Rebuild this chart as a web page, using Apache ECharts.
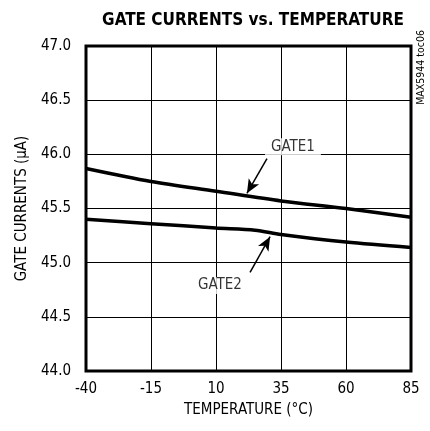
<!DOCTYPE html>
<html><head><meta charset="utf-8">
<script src="https://cdn.jsdelivr.net/npm/echarts@6/dist/echarts.min.js"></script>
<style>html,body{margin:0;padding:0;background:#fff}#c{width:430px;height:431px}</style>
</head><body><div id="c"></div>
<script>
const FONT = '"Liberation Sans Narrow","DejaVu Sans Condensed","Roboto Condensed",sans-serif';
const xTicks = [-40, -15, 10, 35, 60, 85];
const yTicks = ['44.0','44.5','45.0','45.5','46.0','46.5','47.0'];
const gate1X = [-40, -15, 10, 35, 60, 85];
const gate1Y = [45.87, 45.75, 45.66, 45.57, 45.50, 45.42];
const gate2X = [-40, -15, 10, 25, 35, 60, 85];
const gate2Y = [45.40, 45.36, 45.32, 45.30, 45.26, 45.19, 45.14];
const labels = [
  {text: 'GATE1', at: [39.6, 46.07], arrowFrom: [29.6, 45.96], arrowTo: [21.9, 45.64]},
  {text: 'GATE2', at: [11.5, 44.79], arrowFrom: [23.1, 44.91], arrowTo: [30.8, 45.24]}
];
const chart = echarts.init(document.getElementById('c'));
const lineStyle = {color: '#000', width: 3.5};
chart.setOption({
  animation: false,
  textStyle: {fontFamily: FONT},
  title: {text: 'GATE CURRENTS vs. TEMPERATURE', left: 248, top: 7, textAlign: 'center',
    textStyle: {fontFamily: FONT, fontWeight: 'bold', fontSize: 17, color: '#000'}},
  graphic: [{type: 'text', left: 416, top: 30, rotation: Math.PI/2,
    style: {text: 'MAX5944 toc06', font: '10.5px ' + FONT, fill: '#000'}}],
  grid: {left: 86, right: 19, top: 46, bottom: 60, show: true, borderColor: '#000', borderWidth: 3},
  xAxis: {type: 'value', min: -40, max: 85, interval: 25,
    name: 'TEMPERATURE (°C)', nameLocation: 'middle', nameGap: 32,
    nameTextStyle: {fontFamily: FONT, fontSize: 15, color: '#000'},
    axisLine: {show: false}, axisTick: {show: false},
    axisLabel: {fontFamily: FONT, fontSize: 15, color: '#000', margin: 11,
      formatter: v => xTicks.includes(v) ? String(v) : ''},
    splitLine: {show: true, lineStyle: {color: '#000', width: 1}}},
  yAxis: {type: 'value', min: 44, max: 47, interval: 0.5,
    name: 'GATE CURRENTS (µA)', nameLocation: 'middle', nameGap: 55,
    nameTextStyle: {fontFamily: FONT, fontSize: 15, color: '#000'},
    axisLine: {show: false}, axisTick: {show: false},
    axisLabel: {fontFamily: FONT, fontSize: 15, color: '#000', margin: 15,
      formatter: v => yTicks[Math.round((v - 44) / 0.5)]},
    splitLine: {show: true, lineStyle: {color: '#000', width: 1}}},
  series: [
    {type: 'line', data: gate1X.map((x, i) => [x, gate1Y[i]]), smooth: 0.3, symbol: 'none', lineStyle, z: 3},
    {type: 'line', data: gate2X.map((x, i) => [x, gate2Y[i]]), smooth: 0.3, symbol: 'none', lineStyle, z: 3,
      markLine: {silent: true, symbol: ['none', 'arrow'], symbolSize: [9, 14], label: {show: false},
        lineStyle: {color: '#000', width: 1.5, type: 'solid'},
        data: labels.map(l => [{coord: l.arrowFrom}, {coord: l.arrowTo}])}},
    {type: 'scatter', symbolSize: 0, z: 5,
      data: labels.map(l => ({value: l.at, label: {show: true, formatter: l.text}})),
      label: {position: 'inside', fontFamily: FONT, fontSize: 15, color: '#000',
        backgroundColor: '#fff', padding: [1, 6]}}
  ]
});
</script></body></html>
